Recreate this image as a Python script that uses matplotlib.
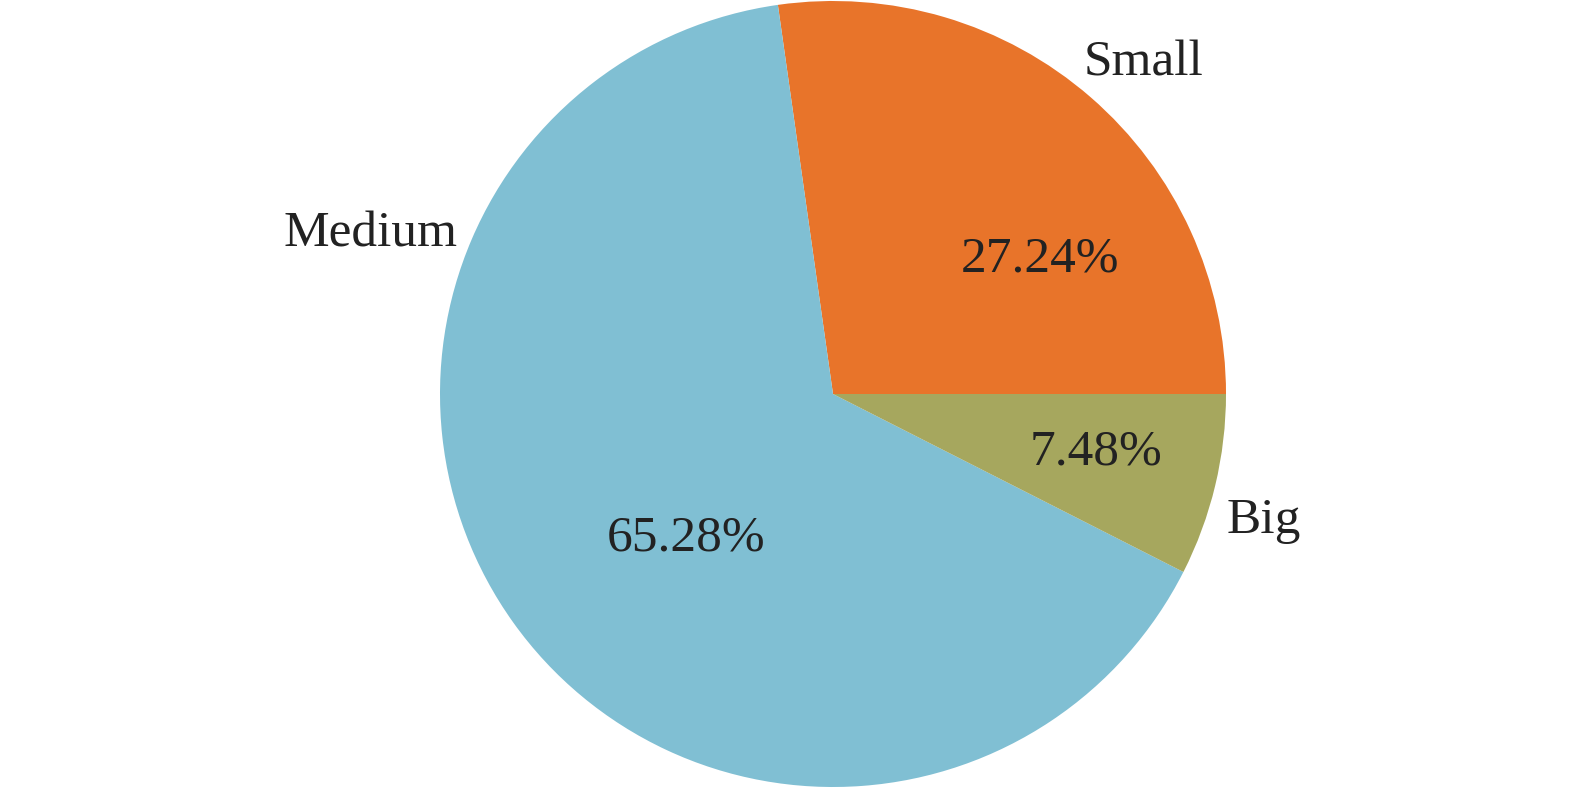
import numpy as np
import matplotlib.pyplot as plt

# Share of each size class
categories = ["Small", "Medium", "Big"]
shares = [27.24, 65.28, 7.48]
colors = ["#E8742A", "#80BFD3", "#A6A75E"]

# label positions in units of the pie radius
name_pos = [(0.79, 0.842), (-1.176, 0.406), (1.097, -0.323)]
pct_pos = [(0.527, 0.342), (-0.373, -0.366), (0.670, -0.149)]

plt.rcParams['font.family'] = ['Liberation Serif', 'DejaVu Serif']

fig = plt.figure(figsize=(15.75, 7.89), dpi=100)
W, H = 1575, 789
cx, cy, r = 833, 394, 393
ax = fig.add_axes([(cx - r) / W, (H - cy - r) / H, 2 * r / W, 2 * r / H])

ax.pie(shares, colors=colors, startangle=0, counterclock=True,
       radius=1.0, wedgeprops=dict(linewidth=0))

for name, (x, y) in zip(categories, name_pos):
    ax.text(x, y, name, ha="center", va="center", fontsize=37, color="#222222")
for val, (x, y) in zip(shares, pct_pos):
    ax.text(x, y, f"{val:.2f}%", ha="center", va="center", fontsize=37, color="#222222")

ax.set_xlim(-1, 1)
ax.set_ylim(-1, 1)
ax.set_aspect("equal")
ax.axis("off")

fig.savefig("out.png", dpi=100)
